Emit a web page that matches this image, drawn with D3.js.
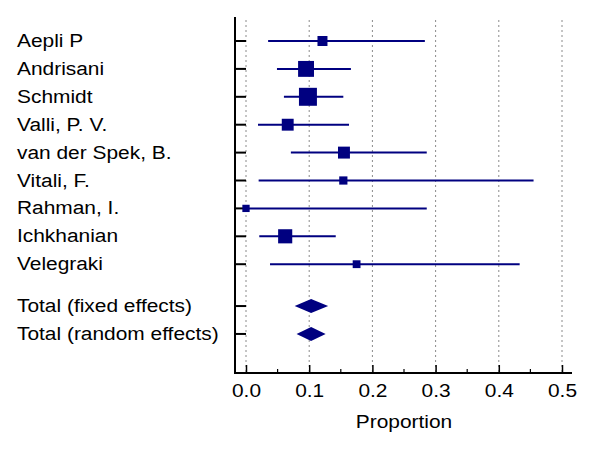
<!DOCTYPE html>
<html><head><meta charset="utf-8">
<script src="https://cdn.jsdelivr.net/npm/d3@7"></script>
<style>
html,body{margin:0;padding:0;background:#fff;}
text{font-family:"Liberation Sans",Arial,sans-serif;fill:#000;}
</style></head>
<body>
<svg id="c" width="600" height="450"></svg>
<script>
const studies = ["Aepli P","Andrisani","Schmidt","Valli, P. V.","van der Spek, B.","Vitali, F.","Rahman, I.","Ichkhanian","Velegraki"];
const estimates = [0.121,0.095,0.098,0.066,0.155,0.154,0.000,0.062,0.175];
const lowerCI   = [0.035,0.049,0.060,0.019,0.071,0.020,0.000,0.021,0.038];
const upperCI   = [0.283,0.166,0.154,0.163,0.286,0.455,0.286,0.142,0.433];
const weights   = [7.7,19.5,24.9,10.9,11.0,5.2,4.1,15.4,4.7];
const totals    = ["Total (fixed effects)","Total (random effects)"];
const totalEst  = [0.103,0.103];
const totalLow  = [0.077,0.080];
const totalHigh = [0.130,0.126];
const xTicks    = [0,0.1,0.2,0.3,0.4,0.5];
const xMinor    = [0.05,0.15,0.25,0.35,0.45];
const xLabel    = "Proportion";

const navy = "#000080";
const sx = 1.1;
const fs = 19;
const svg = d3.select("#c");
svg.append("rect").attr("width",600).attr("height",450).attr("fill","#fff");

const x = d3.scaleLinear().domain([0,0.5]).range([246,562]);
const y = d3.scaleLinear().domain([0,1]).range([41,68.9]);
const size = d3.scaleSqrt().domain([0,25]).range([0,18]);
const rowPos = studies.map((d,i)=>i).concat([9.5,10.5]);
const axisY = 373, axisX = 235, topY = 17;

// grid
svg.append("g").selectAll("line").data(xTicks).join("line")
  .attr("x1",d=>x(d)).attr("x2",d=>x(d)).attr("y1",20).attr("y2",axisY)
  .attr("stroke","#8a8a8a").attr("stroke-width",1).attr("stroke-dasharray","2,3");

// x axis
const xa = svg.append("g").attr("transform",`translate(0,${axisY})`)
  .call(d3.axisBottom(x).tickValues(xTicks).tickFormat(d3.format(".1f")).tickSizeInner(-8).tickSizeOuter(0));
xa.select(".domain").remove();
xa.selectAll(".tick line").attr("stroke","#000").attr("stroke-width",1.5);
xa.selectAll(".tick text").attr("y",0).attr("dy",null).attr("font-size",fs)
  .attr("transform",`translate(0,24) scale(${sx},1)`).attr("text-anchor","middle")
  .attr("font-family","Liberation Sans, Arial, sans-serif");
svg.append("g").selectAll("line").data(xMinor).join("line")
  .attr("x1",d=>x(d)).attr("x2",d=>x(d)).attr("y1",axisY).attr("y2",axisY-4)
  .attr("stroke","#000").attr("stroke-width",1.2);
svg.append("line").attr("x1",axisX).attr("x2",572).attr("y1",axisY).attr("y2",axisY)
  .attr("stroke","#000").attr("stroke-width",2);
svg.append("g").attr("transform",`translate(${(x(0)+x(0.5))/2},428) scale(${sx},1)`)
  .append("text").attr("text-anchor","middle").attr("font-size",fs).text(xLabel);

// y axis
svg.append("line").attr("x1",axisX).attr("x2",axisX).attr("y1",topY).attr("y2",axisY+1)
  .attr("stroke","#000").attr("stroke-width",2);
svg.append("g").selectAll("line").data(rowPos).join("line")
  .attr("x1",axisX).attr("x2",axisX+11).attr("y1",d=>y(d)).attr("y2",d=>y(d))
  .attr("stroke","#000").attr("stroke-width",2);

// labels
const labels = studies.concat(totals);
svg.append("g").selectAll("g").data(labels).join("g")
  .attr("transform",(d,i)=>`translate(17,${y(rowPos[i])+6}) scale(${sx},1)`)
  .append("text").attr("font-size",fs).text(d=>d);

// CIs
svg.append("g").selectAll("line").data(studies).join("line")
  .attr("x1",(d,i)=>x(lowerCI[i])).attr("x2",(d,i)=>x(upperCI[i]))
  .attr("y1",(d,i)=>y(i)).attr("y2",(d,i)=>y(i))
  .attr("stroke",navy).attr("stroke-width",2);
svg.append("g").selectAll("rect").data(studies).join("rect")
  .attr("x",(d,i)=>x(estimates[i])-size(weights[i])/2)
  .attr("y",(d,i)=>y(i)-size(weights[i])/2)
  .attr("width",(d,i)=>size(weights[i])).attr("height",(d,i)=>size(weights[i]))
  .attr("fill",navy);

// diamonds
svg.append("g").selectAll("path").data(totals).join("path")
  .attr("d",(d,i)=>{const yy=y(rowPos[9+i]), h=7;
    return `M${x(totalLow[i])},${yy}L${x(totalEst[i])},${yy-h}L${x(totalHigh[i])},${yy}L${x(totalEst[i])},${yy+h}Z`;})
  .attr("fill",navy);
</script>
</body></html>
